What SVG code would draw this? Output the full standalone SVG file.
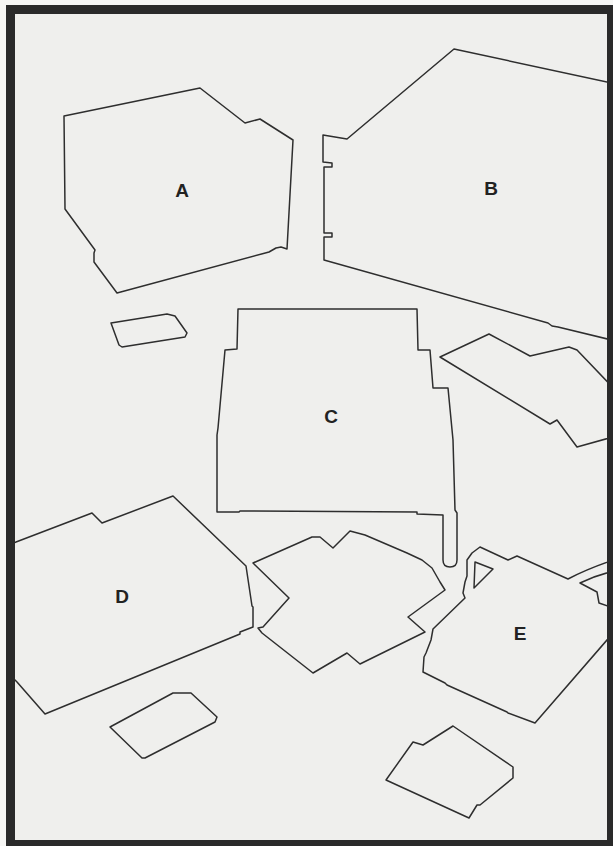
<svg xmlns="http://www.w3.org/2000/svg" width="613" height="846" viewBox="0 0 613 846">
<style>
.p{fill:none;stroke:#2e2e2e;stroke-width:1.5;stroke-linejoin:round;stroke-linecap:round}
.l{font-family:"Liberation Sans",Arial,sans-serif;font-weight:bold;font-size:19px;fill:#222;text-anchor:middle}
</style>
<defs><clipPath id="in"><rect x="15" y="14" width="592" height="826"/></clipPath></defs>
<rect width="613" height="846" fill="#f6f6f4"/>
<rect x="15" y="14" width="592" height="826" fill="#efefed"/>
<g clip-path="url(#in)">
<g id="A"><path class="p" d="M64,116 L200,88 L245,123 L260,119 L293,140 L287,249 L281,247 L276,248 L269,252 L117,293 L94,262 L94,253 L95,250 L65,209 Z"/><text class="l" x="182" y="197">A</text></g>
<g id="B"><path class="p" d="M620,85 L607,82 L454,49 L347,139 L323,135 L323,162 L332,163 L332,167 L324,167 L324,233 L332,233 L332,237 L324,237 L324,260 L548,323 L552,326 L558,327 L620,342"/><text class="l" x="491" y="195">B</text></g>
<g id="small1"><path class="p" d="M111,323 L167,314 L175,316 L187,333 L185,337 L122,347 L119,345 Z"/></g>
<g id="C"><path class="p" d="M238,309 L417,309 L418,350 L430,350 L433,388 L448,388 L453,440 L455,510 L457,513 L457,560 Q457,567 450,567 Q443,567 443,560 L443,515 L417,514 L417,512 L240,511 L239,512 L217,512 L217,435 L218,428 L225,350 L237,349 Z"/><text class="l" x="331" y="423">C</text></g>
<g id="right1"><path class="p" d="M620,395 L577,350 L569,347 L530,356 L489,334 L440,357 L550,424 L557,420 L577,447 L620,435"/></g>
<g id="D"><path class="p" d="M5,547 L16,542 L92,513 L102,523 L173,496 L246,566 L252,606 L253,607 L253,627 L240,632 L240,634 L45,714 L17,682 L5,670"/><text class="l" x="122" y="603">D</text></g>
<g id="small2"><path class="p" d="M110,727 L173,693 L191,693 L217,717 L215,722 L145,758 L142,758 Z"/></g>
<g id="mid"><path class="p" d="M253,563 L312,537 L320,537 L333,548 L350,531 L365,535 L407,553 L422,560 L432,568 L440,582 L445,590 L408,617 L425,632 L360,664 L347,653 L313,673 L262,633 L258,628 L263,627 L289,598 Z"/></g>
<g id="E"><path class="p" d="M630,555 Q595,565 568,579 L517,556 L508,560 L480,547 L472,553 L467,560 L467,576 L465,582 L463,593 L465,598 L433,629 L431,640 L426,653 L424,657 L423,672 L445,683 L447,685 L507,712 L508,713 L535,723 L620,625"/><path class="p" d="M475,562 L493,569 L474,588 Z"/><text class="l" x="520" y="640">E</text></g>
<g id="edge"><path class="p" d="M620,570 Q598,574 580,583 L597,592 L599,603 L620,610"/></g>
<g id="small3"><path class="p" d="M386,780 L413,742 L423,745 L453,726 L513,767 L513,778 L480,805 L477,805 L469,818 Z"/></g>
</g>
<rect id="frame" x="10.5" y="9.5" width="601" height="835" fill="none" stroke="#2a2a2a" stroke-width="9"/>
</svg>
